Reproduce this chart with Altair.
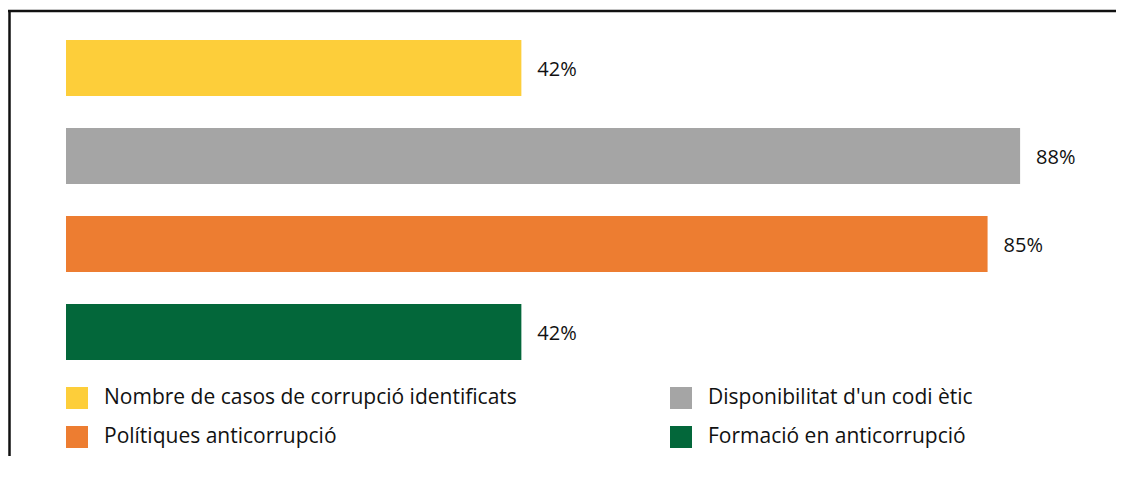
import altair as alt
import pandas as pd

categories = [
    "Nombre de casos de corrupció identificats",
    "Disponibilitat d'un codi ètic",
    "Polítiques anticorrupció",
    "Formació en anticorrupció",
]
values = [42, 88, 85, 42]
colors = ["#FDCE3A", "#A5A5A5", "#ED7D31", "#03673A"]

# legend is filled column by column: order so rows read as in the reference
legend_order = [categories[0], categories[2], categories[1], categories[3]]
legend_colors = [colors[0], colors[2], colors[1], colors[3]]

df = pd.DataFrame({"cat": categories, "val": values})
df["label"] = [f"{v}%" for v in values]

FONT = "Open Sans"

y_enc = alt.Y("cat:N", sort=categories, axis=None,
              scale=alt.Scale(paddingInner=0.3636, paddingOuter=0.1818))
x_enc = alt.X("val:Q", axis=None, scale=alt.Scale(domain=[0, 95], nice=False))

bars = alt.Chart(df).mark_bar().encode(
    x=x_enc,
    y=y_enc,
    color=alt.Color(
        "cat:N",
        scale=alt.Scale(domain=legend_order, range=legend_colors),
        legend=alt.Legend(
            title=None,
            orient="none",
            legendX=0,
            legendY=363,
            columns=2,
            columnPadding=153,
            rowPadding=17,
            padding=0,
            symbolType="square",
            symbolSize=484,
            symbolStrokeWidth=0,
            symbolOpacity=1,
            labelFont=FONT,
            labelFontSize=21,
            labelColor="#111111",
            labelOffset=16,
            labelLimit=0,
        ),
    ),
)

labels = alt.Chart(df).mark_text(
    align="left", baseline="middle", dx=16, dy=2, font=FONT, fontSize=20, color="#111111"
).encode(x=x_enc, y=y_enc, text="label:N")

frame_data = alt.Data(values=[{}])
left_edge = alt.Chart(frame_data).mark_rule(color="#111111", strokeWidth=2.5).encode(
    x=alt.value(-56.5), y=alt.value(-14), y2=alt.value(432)
)
top_edge = alt.Chart(frame_data).mark_rule(color="#111111", strokeWidth=2.5).encode(
    x=alt.value(-58), x2=alt.value(1050), y=alt.value(-13)
)

chart = alt.layer(left_edge, top_edge, bars, labels).properties(
    width=1030,
    height=352,
    autosize=alt.AutoSizeParams(type="none"),
    padding={"left": 58, "top": 16, "right": 25, "bottom": 82},
).configure_view(stroke=None)

chart.save("out.html", embed_options={"renderer": "svg", "actions": False})
